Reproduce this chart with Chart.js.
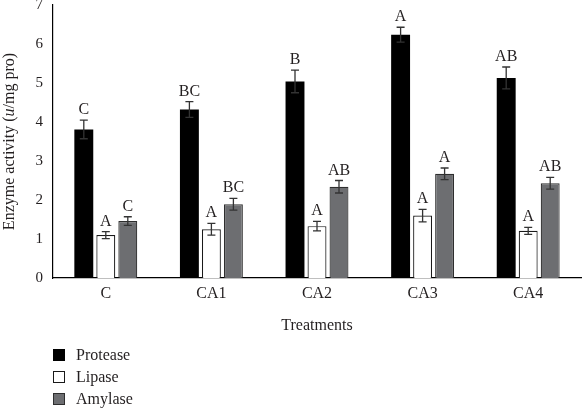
<!DOCTYPE html>
<html>
<head>
<meta charset="utf-8">
<script src="https://cdn.jsdelivr.net/npm/chart.js@4/dist/chart.umd.min.js"></script>
<style>
  html, body { margin: 0; padding: 0; background: #fff; }
  #wrap { width: 582px; height: 408px; }
</style>
</head>
<body>
<div id="wrap"><canvas id="grafico" width="582" height="408"></canvas></div>
<script>
const tratamentos = ["C", "CA1", "CA2", "CA3", "CA4"];

const protease = [3.81, 4.32, 5.04, 6.24, 5.13];
const proteaseErr = [0.24, 0.2, 0.29, 0.19, 0.28];
const proteaseLetras = ["C", "BC", "B", "A", "AB"];

const lipase = [1.1, 1.25, 1.33, 1.6, 1.21];
const lipaseErr = [0.09, 0.15, 0.12, 0.16, 0.09];
const lipaseLetras = ["A", "A", "A", "A", "A"];

const amylase = [1.46, 1.89, 2.34, 2.67, 2.43];
const amylaseErr = [0.11, 0.15, 0.16, 0.15, 0.15];
const amylaseLetras = ["C", "BC", "AB", "A", "AB"];

const yTicks = [0, 1, 2, 3, 4, 5, 6, 7];

const FONTE = "'Liberation Serif', 'DejaVu Serif', serif";
const COR_TEXTO = "#231f20";

// barras de erro + letras de significancia
const pluginErros = {
  id: "erros",
  afterDatasetsDraw(chart) {
    const ctx = chart.ctx;
    const y = chart.scales.y;
    chart.data.datasets.forEach((ds, i) => {
      const meta = chart.getDatasetMeta(i);
      meta.data.forEach((bar, j) => {
        const v = ds.data[j];
        const e = ds.erros[j];
        const yTop = y.getPixelForValue(v + e);
        const yBot = y.getPixelForValue(v - e);
        const x = bar.x;
        ctx.save();
        ctx.strokeStyle = "#333";
        ctx.lineWidth = 1.3;
        ctx.beginPath();
        ctx.moveTo(x, yTop);
        ctx.lineTo(x, yBot);
        ctx.moveTo(x - 4, yTop);
        ctx.lineTo(x + 4, yTop);
        ctx.moveTo(x - 4, yBot);
        ctx.lineTo(x + 4, yBot);
        ctx.stroke();
        ctx.fillStyle = COR_TEXTO;
        ctx.font = "16px " + FONTE;
        ctx.textAlign = "center";
        ctx.textBaseline = "alphabetic";
        ctx.fillText(ds.letras[j], x, yTop - 6);
        ctx.restore();
      });
    });
  },
};

// titulo do eixo y (com u em italico) e legenda vertical
const pluginExtras = {
  id: "extras",
  afterDraw(chart) {
    const ctx = chart.ctx;
    const area = chart.chartArea;
    ctx.save();
    ctx.fillStyle = COR_TEXTO;
    ctx.textBaseline = "middle";

    // titulo y
    const partes = [
      { t: "Enzyme activity (", f: "16px " + FONTE },
      { t: "u", f: "italic 16px " + FONTE },
      { t: "/mg pro)", f: "16px " + FONTE },
    ];
    let total = 0;
    partes.forEach((p) => {
      ctx.font = p.f;
      p.w = ctx.measureText(p.t).width;
      total += p.w;
    });
    ctx.translate(10, (area.top + area.bottom) / 2);
    ctx.rotate(-Math.PI / 2);
    ctx.textAlign = "left";
    let px = -total / 2;
    partes.forEach((p) => {
      ctx.font = p.f;
      ctx.fillText(p.t, px, 0);
      px += p.w;
    });
    ctx.setTransform(1, 0, 0, 1, 0, 0);

    // legenda
    ctx.font = "16px " + FONTE;
    ctx.textAlign = "left";
    chart.data.datasets.forEach((ds, i) => {
      const cy = 355 + i * 22;
      ctx.fillStyle = ds.backgroundColor;
      ctx.fillRect(53.5, cy - 5.5, 11, 11);
      ctx.strokeStyle = ds.borderWidth ? ds.borderColor : ds.backgroundColor;
      ctx.lineWidth = 1;
      ctx.strokeRect(53.5, cy - 5.5, 11, 11);
      ctx.fillStyle = COR_TEXTO;
      ctx.fillText(ds.label, 76, cy + 1);
    });
    ctx.restore();
  },
};

new Chart(document.getElementById("grafico").getContext("2d"), {
  type: "bar",
  data: {
    labels: tratamentos,
    datasets: [
      {
        label: "Protease",
        data: protease,
        erros: proteaseErr,
        letras: proteaseLetras,
        backgroundColor: "#000000",
        borderColor: "#000000",
        borderWidth: 0,
      },
      {
        label: "Lipase",
        data: lipase,
        erros: lipaseErr,
        letras: lipaseLetras,
        backgroundColor: "#ffffff",
        borderColor: "#1a1a1a",
        borderWidth: 1.2,
      },
      {
        label: "Amylase",
        data: amylase,
        erros: amylaseErr,
        letras: amylaseLetras,
        backgroundColor: "#6d6e71",
        borderColor: "#2e2e2e",
        borderWidth: 1.2,
      },
    ],
  },
  options: {
    responsive: false,
    animation: false,
    devicePixelRatio: 1,
    layout: { padding: { left: 0, right: 1, top: 0, bottom: 73 } },
    datasets: {
      bar: { categoryPercentage: 0.625, barPercentage: 0.86 },
    },
    plugins: {
      legend: { display: false },
      tooltip: { enabled: false },
    },
    scales: {
      x: {
        grid: { display: false, drawTicks: false },
        border: { display: true, color: "#000", width: 1.2 },
        ticks: {
          color: COR_TEXTO,
          font: { family: FONTE, size: 16 },
          padding: 6,
        },
        title: {
          display: true,
          text: "Treatments",
          color: COR_TEXTO,
          font: { family: FONTE, size: 16 },
          padding: { top: 0, bottom: 0 },
        },
        afterFit(scale) {
          scale.height = 57;
        },
      },
      y: {
        min: 0,
        max: 7,
        afterBuildTicks(scale) {
          scale.ticks = yTicks.map((v) => ({ value: v }));
        },
        grid: { display: false, drawTicks: false },
        border: { display: true, color: "#000", width: 1.2 },
        ticks: {
          color: COR_TEXTO,
          font: { family: FONTE, size: 15 },
          padding: 10,
        },
        afterFit(scale) {
          scale.width = 53;
          scale.paddingTop = 5;
          scale.paddingBottom = 0;
        },
      },
    },
  },
  plugins: [pluginErros, pluginExtras],
});
</script>
</body>
</html>
